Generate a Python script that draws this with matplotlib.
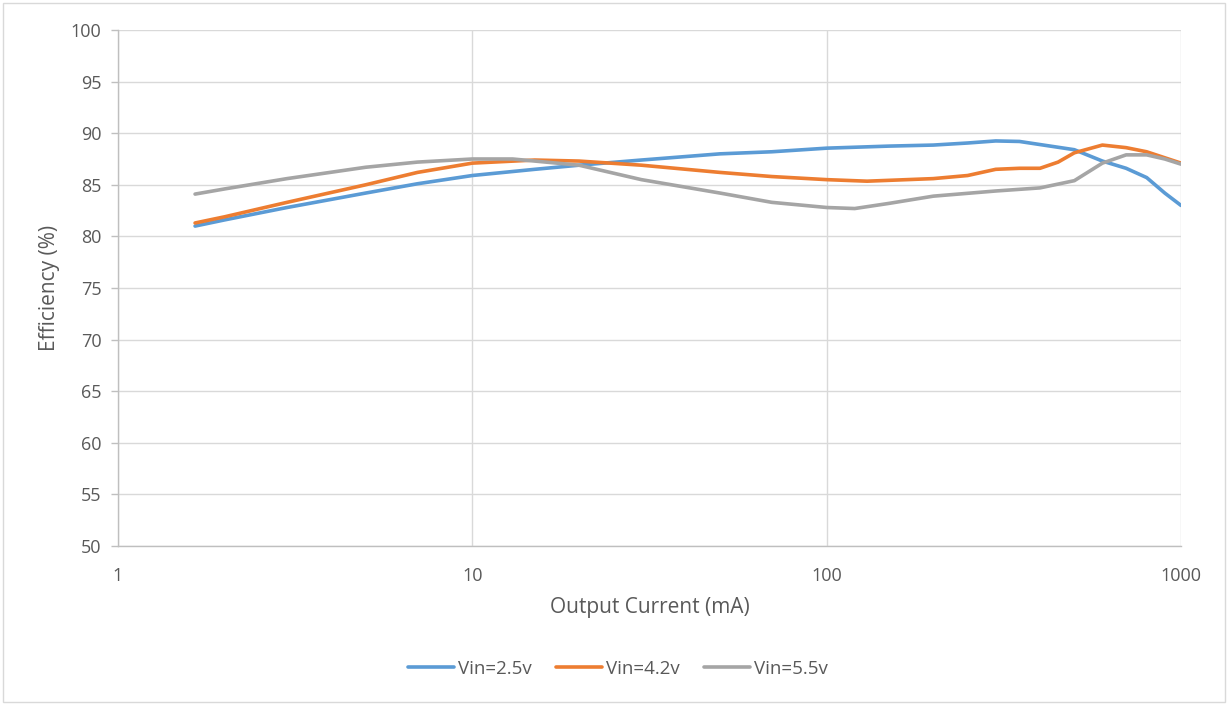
import matplotlib
matplotlib.use("Agg")
import matplotlib.pyplot as plt
from matplotlib.patches import Rectangle

plt.rcParams['font.family'] = ['Open Sans', 'DejaVu Sans']

# Output current (mA) sample points
x_blue = [1.65, 2, 3, 5, 7, 10, 15, 20, 30, 50, 70, 100, 150, 200, 250, 300, 350,
          400, 500, 600, 700, 800, 900, 1000]
y_blue = [81.0, 81.6, 82.8, 84.2, 85.1, 85.9, 86.5, 86.9, 87.4, 88.0, 88.2, 88.55,
          88.75, 88.85, 89.05, 89.25, 89.2, 88.9, 88.4, 87.3, 86.6, 85.7, 84.2, 83.0]

x_orange = [1.65, 2, 3, 5, 7, 10, 15, 20, 30, 50, 70, 100, 130, 200, 250, 300, 350,
            400, 450, 500, 600, 700, 800, 1000]
y_orange = [81.3, 81.9, 83.3, 85.0, 86.2, 87.1, 87.4, 87.3, 86.9, 86.2, 85.8, 85.5,
            85.35, 85.6, 85.9, 86.5, 86.6, 86.6, 87.2, 88.1, 88.85, 88.6, 88.2, 87.1]

x_gray = [1.65, 2, 3, 5, 7, 10, 13, 20, 30, 50, 70, 100, 120, 150, 200, 300, 400,
          500, 600, 700, 800, 900, 1000]
y_gray = [84.1, 84.6, 85.6, 86.7, 87.2, 87.5, 87.5, 86.9, 85.5, 84.2, 83.3, 82.8,
          82.7, 83.2, 83.9, 84.4, 84.7, 85.4, 87.1, 87.9, 87.9, 87.5, 87.0]

labels = ["Vin=2.5v", "Vin=4.2v", "Vin=5.5v"]
colors = ["#5b9bd5", "#ed7d31", "#a5a5a5"]

x_ticks = [1, 10, 100, 1000]
y_ticks = list(range(50, 101, 5))

fig = plt.figure(figsize=(12.28, 7.05), dpi=100)
fig.patches.append(Rectangle((3 / 1228, 3 / 705), 1222 / 1228, 699 / 705,
                             transform=fig.transFigure, fill=False,
                             edgecolor="#d9d9d9", linewidth=1.0))

ax = fig.add_axes([118 / 1228, 1 - 546 / 705, (1181 - 118) / 1228, (546 - 30) / 705])
ax.set_xscale('log')
ax.set_xlim(1, 1000)
ax.set_ylim(50, 100)

for xs, ys, lab, c in zip([x_blue, x_orange, x_gray], [y_blue, y_orange, y_gray], labels, colors):
    ax.plot(xs, ys, color=c, linewidth=2.6, label=lab, solid_capstyle='round',
            solid_joinstyle='round')

ax.set_yticks(y_ticks)
ax.set_xticks(x_ticks)
ax.set_xticklabels([str(v) for v in x_ticks])
ax.xaxis.set_minor_locator(matplotlib.ticker.NullLocator())
ax.grid(True, which='major', color="#d9d9d9", linewidth=1.0)
ax.set_axisbelow(True)

for s in ['top', 'right']:
    ax.spines[s].set_visible(False)
ax.spines['left'].set_color("#bfbfbf")
ax.spines['bottom'].set_color("#bfbfbf")
ax.spines['left'].set_linewidth(1.0)
ax.spines['bottom'].set_linewidth(1.0)

ax.tick_params(axis='y', colors="#bfbfbf", labelcolor="#595959", labelsize=13,
               length=5, width=1, pad=7)
ax.tick_params(axis='x', length=0, labelcolor="#595959", labelsize=13, pad=15)

ax.set_xlabel("Output Current (mA)", fontsize=15, color="#595959", labelpad=9)
ax.set_ylabel("Efficiency (%)", fontsize=15, color="#595959", labelpad=7.5)

leg = fig.legend(loc='center', bbox_to_anchor=(618 / 1228, 1 - 669 / 705), ncol=3,
                 frameon=False, fontsize=13.5, handlelength=2.45, handletextpad=0.2,
                 columnspacing=1.3)
for t in leg.get_texts():
    t.set_color("#595959")

fig.savefig("out.png", dpi=100)
